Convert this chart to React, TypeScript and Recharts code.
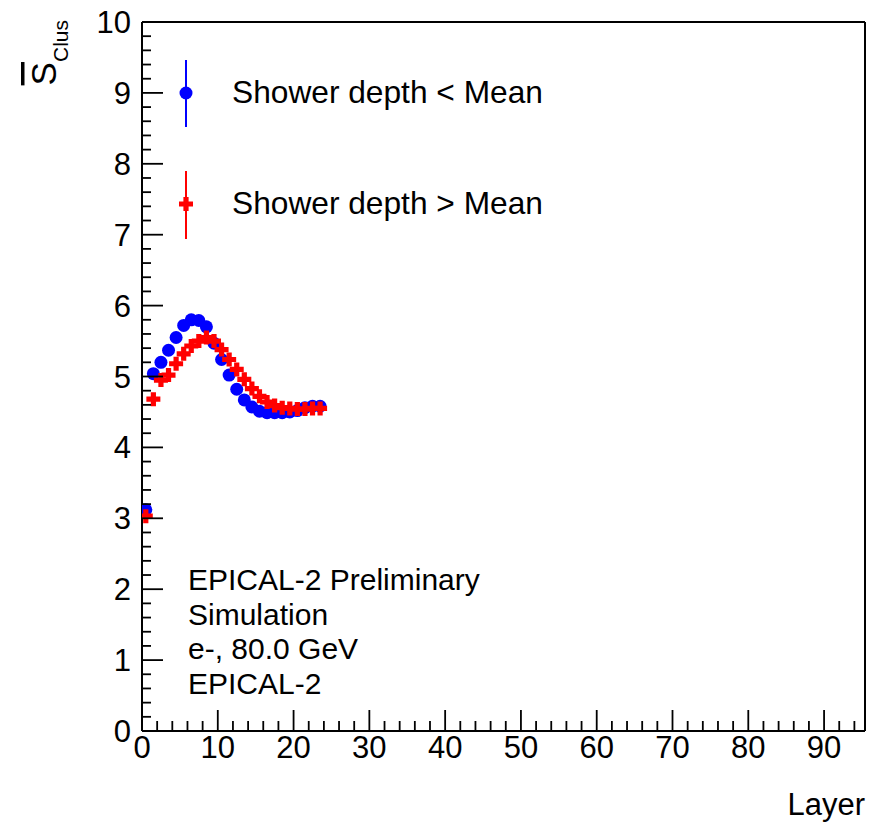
import { CartesianGrid, Customized, ReferenceLine, Scatter, ScatterChart, XAxis, YAxis } from 'recharts';

const layers = [0, 1, 2, 3, 4, 5, 6, 7, 8, 9, 10, 11, 12, 13, 14, 15, 16, 17, 18, 19, 20, 21, 22, 23];
const shallowValues = [
	3.12, 5.04, 5.2, 5.37, 5.55, 5.72, 5.8, 5.79, 5.7, 5.47, 5.24, 5.02, 4.82, 4.67, 4.57, 4.51, 4.49, 4.49,
	4.49, 4.5, 4.52, 4.56, 4.58, 4.58,
];
const deepValues = [
	3.03, 4.68, 4.95, 5.02, 5.18, 5.32, 5.43, 5.5, 5.55, 5.5, 5.38, 5.24, 5.1, 4.96, 4.83, 4.72, 4.64, 4.59,
	4.56, 4.55, 4.54, 4.54, 4.55, 4.55,
];
const xMajorTicks = [0, 10, 20, 30, 40, 50, 60, 70, 80, 90];
const yMajorTicks = [0, 1, 2, 3, 4, 5, 6, 7, 8, 9, 10];
const seriesNames = ['Shower depth < Mean', 'Shower depth > Mean'];
const infoLines = ['EPICAL-2 Preliminary', 'Simulation', 'e-, 80.0 GeV', 'EPICAL-2'];

const X_MAX = 95.4;
const FONT = '"Liberation Sans", Arial, Helvetica, sans-serif';
const BLUE = '#0000ff';
const RED = '#ff0000';

// minor ticks: every 2 layers on x, every 0.2 on y
const xTicks = Array.from({ length: 48 }, (_, i) => i * 2);
const yTicks = Array.from({ length: 51 }, (_, i) => Math.round(i * 2) / 10);

const shallowData = layers.map((l, i) => ({ x: l + 0.5, y: shallowValues[i] }));
const deepData = layers.map((l, i) => ({ x: l + 0.5, y: deepValues[i] }));

const isWhole = (v: number) => Math.abs(v - Math.round(v)) < 1e-6;

const XTick = (props: any) => {
	const { x, y, payload } = props;
	const v = payload.value;
	const major = xMajorTicks.includes(v);
	return (
		<g>
			<line x1={x} x2={x} y1={y} y2={y - (major ? 21 : 10)} stroke="#000" strokeWidth={1.8} />
			{major && (
				<text x={x} y={y + 27} textAnchor="middle" fontSize={31} fontFamily={FONT} fill="#000">
					{v}
				</text>
			)}
		</g>
	);
};

const YTick = (props: any) => {
	const { x, y, payload } = props;
	const v = payload.value;
	const major = isWhole(v) && yMajorTicks.includes(Math.round(v));
	return (
		<g>
			<line x1={x} x2={x + (major ? 21 : 9)} y1={y} y2={y} stroke="#000" strokeWidth={1.8} />
			{major && (
				<text x={x - 11} y={y + 11} textAnchor="end" fontSize={31} fontFamily={FONT} fill="#000">
					{Math.round(v)}
				</text>
			)}
		</g>
	);
};

const Dot = (props: any) => <circle cx={props.cx} cy={props.cy} r={6.5} fill={BLUE} />;

const Cross = (props: any) => {
	const { cx, cy } = props;
	const a = 7;
	const t = 2.6;
	const d = `M${cx - t},${cy - a}H${cx + t}V${cy - t}H${cx + a}V${cy + t}H${cx + t}V${cy + a}H${cx - t}V${cy + t}H${cx - a}V${cy - t}H${cx - t}Z`;
	return <path d={d} fill={RED} />;
};

const Annotations = () => (
	<g fontFamily={FONT} fill="#000">
		<line x1={186} x2={186} y1={60} y2={127} stroke={BLUE} strokeWidth={2} />
		<Dot cx={186} cy={93} />
		<text x={232} y={103} fontSize={31.7}>
			{seriesNames[0]}
		</text>
		<line x1={186} x2={186} y1={171} y2={239} stroke={RED} strokeWidth={2} />
		<Cross cx={186} cy={204} />
		<text x={232} y={214} fontSize={31.7}>
			{seriesNames[1]}
		</text>
		{infoLines.map((t, i) => (
			<text key={t} x={188} y={590 + i * 34.6} fontSize={30}>
				{t}
			</text>
		))}
		<text x={865} y={815} textAnchor="end" fontSize={31}>
			Layer
		</text>
		<text transform="rotate(-90, 56, 20)" x={56} y={20} textAnchor="end" fontSize={35}>
			<tspan style={{ textDecoration: 'overline' }}>S</tspan>
			<tspan fontSize={21} dy={12}>
				Clus
			</tspan>
		</text>
	</g>
);

export default function App() {
	return (
		<div style={{ position: 'absolute', left: 0, top: 0, background: '#fff' }}>
			<ScatterChart width={890} height={823} margin={{ top: 22, right: 25, bottom: 52, left: 82 }}>
				<CartesianGrid stroke="none" />
				<XAxis
					type="number"
					dataKey="x"
					domain={[0, X_MAX]}
					ticks={xTicks}
					interval={0}
					height={40}
					tickSize={0}
					tickMargin={0}
					tickLine={false}
					axisLine={{ stroke: '#000', strokeWidth: 2 }}
					tick={<XTick />}
					allowDataOverflow
				/>
				<YAxis
					type="number"
					dataKey="y"
					domain={[0, 10]}
					ticks={yTicks}
					interval={0}
					width={60}
					tickSize={0}
					tickMargin={0}
					tickLine={false}
					axisLine={{ stroke: '#000', strokeWidth: 2 }}
					tick={<YTick />}
					allowDataOverflow
				/>
				<ReferenceLine y={10} stroke="#000" strokeWidth={2} />
				<ReferenceLine x={X_MAX} stroke="#000" strokeWidth={2} />
				<Scatter name={seriesNames[0]} data={shallowData} shape={<Dot />} isAnimationActive={false} />
				<Scatter name={seriesNames[1]} data={deepData} shape={<Cross />} isAnimationActive={false} />
				<Customized component={Annotations} />
			</ScatterChart>
		</div>
	);
}
